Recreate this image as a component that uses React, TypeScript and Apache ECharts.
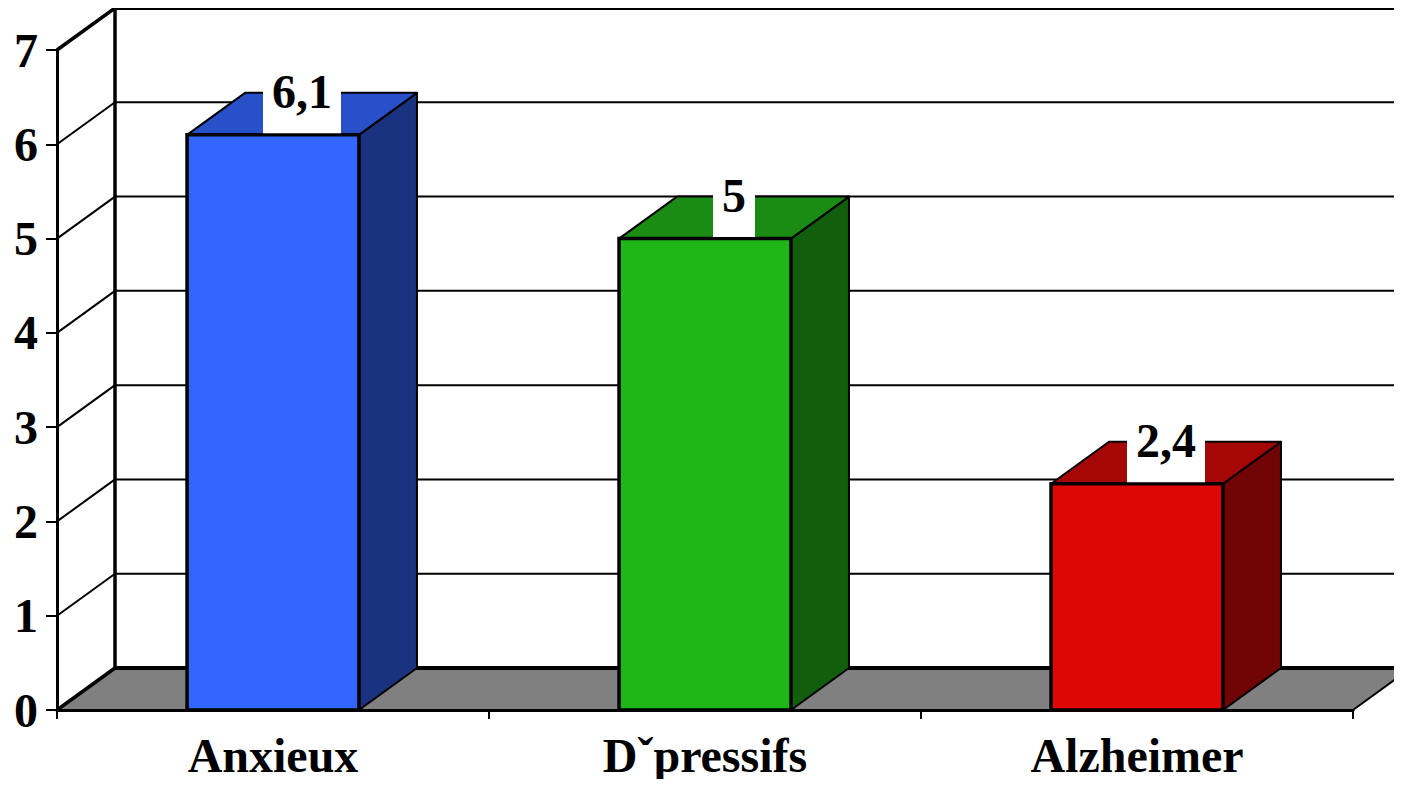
import React, { useEffect, useRef } from "react";
import * as echarts from "echarts";

const categories = ["Anxieux", "Dˇpressifs", "Alzheimer"];
const values = [6.1, 5, 2.4];
const yTicks = [0, 1, 2, 3, 4, 5, 6, 7];
const frontColors = ["#3366FF", "#1FB718", "#DD0805"];
const topColors = ["#2850C8", "#1A8C14", "#A50606"];
const sideColors = ["#1A3380", "#115E0C", "#700303"];

const DX = 58;
const DY = -42;
const FONT = '"Liberation Serif", "Times New Roman", serif';

export default function App() {
  const ref = useRef<HTMLDivElement>(null);
  useEffect(() => {
    if (!ref.current) return;
    const chart = echarts.init(ref.current, null, { renderer: "svg" });
    const yMax = yTicks[yTicks.length - 1];
    const option: any = {
      animation: false,
      backgroundColor: "#fff",
      grid: { left: 57, right: 49, top: 50, bottom: 77 },
      xAxis: {
        type: "category",
        data: categories,
        boundaryGap: true,
        z: 10,
        axisLine: { show: true, lineStyle: { color: "#000", width: 3 } },
        axisTick: { show: true, length: 9, lineStyle: { color: "#000", width: 2 } },
        axisLabel: {
          color: "#000",
          fontFamily: FONT,
          fontWeight: "bold",
          fontSize: 48,
          lineHeight: 48,
          margin: 21,
        },
        splitLine: { show: false },
      },
      yAxis: {
        type: "value",
        min: 0,
        max: yMax,
        interval: 1,
        z: 10,
        axisLine: { show: true, lineStyle: { color: "#000", width: 3 } },
        axisTick: { show: true, length: 11, lineStyle: { color: "#000", width: 2 } },
        axisLabel: {
          color: "#000",
          fontFamily: FONT,
          fontWeight: "bold",
          fontSize: 48,
          lineHeight: 48,
          margin: 19,
        },
        splitLine: { show: false },
      },
      series: [
        {
          type: "custom",
          name: "frame",
          clip: false,
          silent: true,
          encode: { x: 0, y: 1 },
          data: yTicks.map((v) => [0, v]),
          renderItem: (params: any, api: any) => {
            const v = api.value(1);
            const cs = params.coordSys;
            const y = api.coord([0, v])[1];
            const x0 = cs.x;
            const x1 = cs.x + cs.width;
            const bottom = cs.y + cs.height;
            const edge = v === 0 || v === yMax;
            const children: any[] = [];
            if (v === 0) {
              children.push({
                type: "polygon",
                shape: { points: [[x0, y], [x1, y], [x1 + DX, y + DY], [x0 + DX, y + DY]] },
                style: { fill: "#808080", stroke: "none" },
              });
              children.push({
                type: "line",
                shape: { x1: x1, y1: y, x2: x1 + DX, y2: y + DY },
                style: { stroke: "#000", lineWidth: 2 },
              });
            }
            children.push({
              type: "line",
              shape: { x1: x0 + DX, y1: y + DY, x2: x1 + DX + 20, y2: y + DY },
              style: { stroke: "#000", lineWidth: edge ? 4 : 2 },
            });
            children.push({
              type: "line",
              shape: { x1: x0, y1: y, x2: x0 + DX, y2: y + DY },
              style: { stroke: "#000", lineWidth: edge ? 3.5 : 2 },
            });
            if (v === yMax) {
              children.push({
                type: "line",
                shape: { x1: x0 + DX, y1: y + DY, x2: x0 + DX, y2: bottom + DY },
                style: { stroke: "#000", lineWidth: 3.5 },
              });
            }
            return { type: "group", children };
          },
        },
        {
          type: "custom",
          name: "bars",
          clip: false,
          encode: { x: 0, y: 1 },
          data: values.map((v, i) => [i, v]),
          renderItem: (params: any, api: any) => {
            const i = params.dataIndex;
            const v = api.value(1);
            const base = api.coord([api.value(0), 0]);
            const topP = api.coord([api.value(0), v]);
            const bw = api.size([1, 0])[0] * 0.398;
            const xl = base[0] - bw / 2;
            const xr = base[0] + bw / 2;
            const yb = base[1];
            const yt = topP[1];
            const label = String(v).replace(".", ",");
            return {
              type: "group",
              children: [
                {
                  type: "polygon",
                  shape: { points: [[xr, yt], [xr + DX, yt + DY], [xr + DX, yb + DY], [xr, yb]] },
                  style: { fill: sideColors[i], stroke: "#000", lineWidth: 2, lineJoin: "round" },
                },
                {
                  type: "polygon",
                  shape: { points: [[xl, yt], [xl + DX, yt + DY], [xr + DX, yt + DY], [xr, yt]] },
                  style: { fill: topColors[i], stroke: "#000", lineWidth: 2, lineJoin: "round" },
                },
                {
                  type: "rect",
                  shape: { x: xl, y: yt, width: bw, height: yb - yt },
                  style: { fill: frontColors[i], stroke: "#000", lineWidth: 3.5 },
                },
                {
                  type: "text",
                  x: base[0] + DX / 2,
                  y: yt - 1.5,
                  style: {
                    text: label,
                    font: `bold 48px ${FONT}`,
                    fill: "#000",
                    align: "center",
                    verticalAlign: "bottom",
                    lineHeight: 48,
                    backgroundColor: "#fff",
                    padding: [2, 9, 18, 9],
                  },
                },
              ],
            };
          },
        },
      ],
    };
    chart.setOption(option);
    return () => chart.dispose();
  }, []);
  return <div ref={ref} style={{ width: 1402, height: 787, margin: -8 }} />;
}
